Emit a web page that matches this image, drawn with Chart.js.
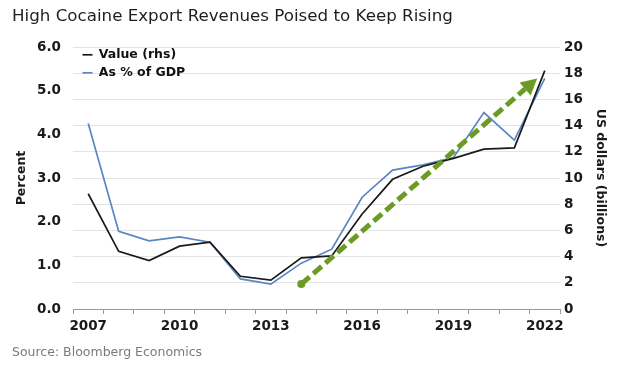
<!DOCTYPE html>
<html>
<head>
<meta charset="utf-8">
<script src="https://cdn.jsdelivr.net/npm/chart.js@4/dist/chart.umd.min.js"></script>
<style>
  html, body { margin: 0; padding: 0; background: #fff; }
  #wrap { width: 620px; height: 368px; }
</style>
</head>
<body>
<div id="wrap"><canvas id="cocaineChart" width="620" height="368"></canvas></div>
<script>
// Chart data
const years = ["2007", "2008", "2009", "2010", "2011", "2012", "2013", "2014",
               "2015", "2016", "2017", "2018", "2019", "2020", "2021", "2022"];
const valueBn = [8.8, 4.4, 3.7, 4.8, 5.1, 2.5, 2.2, 3.9, 4.05, 7.25, 9.9, 10.9, 11.5, 12.2, 12.3, 18.2];
const pctGdp = [4.25, 1.78, 1.56, 1.65, 1.53, 0.69, 0.57, 1.05, 1.37, 2.56, 3.18, 3.3, 3.47, 4.5, 3.87, 5.28];
const leftTicks = [0, 1, 2, 3, 4, 5, 6];
const rightTicks = [0, 2, 4, 6, 8, 10, 12, 14, 16, 18, 20];
// trend arrow, in years and US$ bn (rhs)
const trendYears = [2014, 2021.75];
const trendValues = [1.9, 17.6];

const tickFont = { family: "DejaVu Sans", size: 13.5, weight: "bold" };
const axisTitleFont = { family: "DejaVu Sans", size: 12.5, weight: "bold" };

// dashed green arrow drawn through the scales
const trendArrow = {
  id: "trendArrow",
  afterDatasetsDraw(chart) {
    const x = chart.scales.x, y1 = chart.scales.y1;
    const x0 = x.getPixelForValue(trendYears[0] - 2007);
    const y0 = y1.getPixelForValue(trendValues[0]);
    const x1 = x.getPixelForValue(trendYears[1] - 2007);
    const yEnd = y1.getPixelForValue(trendValues[1]);
    const ang = Math.atan2(yEnd - y0, x1 - x0);
    const head = 16, half = 8.5;
    const bx = x1 - Math.cos(ang) * head, by = yEnd - Math.sin(ang) * head;
    const ctx = chart.ctx;
    ctx.save();
    ctx.strokeStyle = "#6b9b24";
    ctx.fillStyle = "#6b9b24";
    ctx.lineWidth = 5;
    ctx.setLineDash([11, 5]);
    ctx.beginPath();
    ctx.moveTo(x0, y0);
    ctx.lineTo(bx, by);
    ctx.stroke();
    ctx.setLineDash([]);
    ctx.beginPath();
    ctx.arc(x0, y0, 4, 0, Math.PI * 2);
    ctx.fill();
    ctx.beginPath();
    ctx.moveTo(x1, yEnd);
    ctx.lineTo(bx + Math.sin(ang) * half, by - Math.cos(ang) * half);
    ctx.lineTo(bx - Math.sin(ang) * half, by + Math.cos(ang) * half);
    ctx.closePath();
    ctx.fill();
    ctx.restore();
  }
};

// keep the legend inside the top-left corner of the plot
const legendInPlot = {
  id: "legendInPlot",
  afterLayout(chart) {
    const lg = chart.legend, area = chart.chartArea;
    if (!lg) return;
    lg.top = area.top - 4;
    lg.bottom = area.bottom;
    lg.left = area.left + 4;
  }
};

const ctx = document.getElementById("cocaineChart").getContext("2d");
const chart = new Chart(ctx, {
  type: "line",
  data: {
    labels: years,
    datasets: [
      {
        label: "Value (rhs)",
        data: valueBn,
        yAxisID: "y1",
        borderColor: "#1a1a1a",
        backgroundColor: "#1a1a1a",
        borderWidth: 1.7,
        pointRadius: 0,
        tension: 0
      },
      {
        label: "As % of GDP",
        data: pctGdp,
        yAxisID: "y",
        borderColor: "#5a86c3",
        backgroundColor: "#5a86c3",
        borderWidth: 1.7,
        pointRadius: 0,
        tension: 0
      }
    ]
  },
  options: {
    responsive: false,
    animation: false,
    layout: { padding: { left: 12, right: 8, top: 0, bottom: 0 } },
    plugins: {
      title: {
        display: true,
        text: "High Cocaine Export Revenues Poised to Keep Rising",
        align: "start",
        color: "#1e1e1e",
        font: { family: "DejaVu Sans", size: 16.7, weight: "normal" },
        padding: { top: 7, bottom: 20 }
      },
      subtitle: {
        display: true,
        position: "bottom",
        text: "Source: Bloomberg Economics",
        align: "start",
        color: "#7a7a7a",
        font: { family: "DejaVu Sans", size: 12.5, weight: "normal" },
        padding: { top: 6.5, bottom: 7.5 }
      },
      legend: {
        position: "chartArea",
        align: "start",
        labels: {
          usePointStyle: true,
          pointStyle: "line",
          pointStyleWidth: 10,
          padding: 5.5,
          color: "#111",
          font: { family: "DejaVu Sans", size: 12.5, weight: "bold" }
        }
      },
      tooltip: { enabled: false }
    },
    scales: {
      x: {
        type: "category",
        offset: true,
        grid: {
          offset: true,
          drawOnChartArea: false,
          drawTicks: true,
          tickLength: 5,
          color: "#9a9a9a"
        },
        border: { display: true, color: "#9a9a9a" },
        ticks: {
          autoSkip: false,
          maxRotation: 0,
          padding: 4,
          color: "#1a1a1a",
          font: tickFont,
          callback: function (v, i) {
            return (i % 3 === 0) ? years[i] : "";
          }
        },
        afterFit: function (s) { s.height = 30; }
      },
      y: {
        position: "left",
        min: leftTicks[0],
        max: leftTicks[leftTicks.length - 1],
        grid: { display: false, drawTicks: false },
        border: { display: false },
        afterBuildTicks: function (s) { s.ticks = leftTicks.map(v => ({ value: v })); },
        ticks: {
          padding: 12,
          color: "#1a1a1a",
          font: tickFont,
          callback: v => v.toFixed(1)
        },
        title: {
          display: true,
          text: "Percent",
          color: "#1a1a1a",
          font: axisTitleFont,
          padding: { top: 2.5, bottom: 0 }
        },
        afterFit: function (s) { s.width = 61; }
      },
      y1: {
        position: "right",
        min: rightTicks[0],
        max: rightTicks[rightTicks.length - 1],
        grid: { drawTicks: false, color: "#e4e4e4", lineWidth: 1 },
        border: { display: false },
        afterBuildTicks: function (s) { s.ticks = rightTicks.map(v => ({ value: v })); },
        ticks: {
          padding: 4,
          color: "#1a1a1a",
          font: tickFont
        },
        title: {
          display: true,
          text: "US dollars (billions)",
          color: "#1a1a1a",
          font: axisTitleFont,
          padding: { top: 4.5, bottom: 0 }
        },
        afterFit: function (s) { s.width = 52; }
      }
    }
  },
  plugins: [trendArrow, legendInPlot]
});
</script>
</body>
</html>
